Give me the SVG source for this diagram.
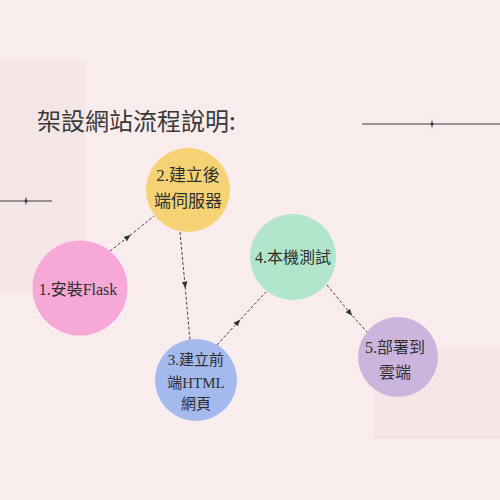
<svg xmlns="http://www.w3.org/2000/svg" width="500" height="500" viewBox="0 0 500 500">
  <defs>
    <style>
      .title { font-family: "Noto Sans CJK TC", "Noto Sans", sans-serif; font-size: 24px; fill: #3a3a3a; }
      .lbl { font-family: "Liberation Serif", "Noto Sans CJK TC", serif; fill: #2f2f2f; text-anchor: middle; }
      .conn { fill: none; stroke: #444; stroke-width: 1; stroke-dasharray: 3 2; marker-mid: url(#arr); }
      .deco { stroke: #3a3a3a; stroke-width: 1.2; }
      .star { fill: #3a3a3a; }
    </style>
    <marker id="arr" viewBox="0 0 10 10" refX="5" refY="5" markerWidth="7" markerHeight="7" orient="auto" markerUnits="strokeWidth">
      <path d="M0,1 L10,5 L0,9 z" fill="#333"/>
    </marker>
  </defs>

  <rect width="500" height="500" fill="#f9ecec"/>
  <rect x="0" y="61" width="85" height="229" fill="#f4e6e7"/>
  <rect x="374" y="350" width="126" height="89" fill="#f4e5e6"/>

  <g id="decorations">
    <line class="deco" x1="362" y1="124" x2="500" y2="124"/>
    <path class="star" d="M432,119 Q432.4,123.6 434,124 Q432.4,124.4 432,129 Q431.6,124.4 430,124 Q431.6,123.6 432,119 z"/>
    <line class="deco" x1="0" y1="201" x2="52" y2="201"/>
    <path class="star" d="M26,196 Q26.4,200.6 28,201 Q26.4,201.4 26,206 Q25.6,201.4 24,201 Q25.6,200.6 26,196 z"/>
  </g>

  <text class="title" x="37" y="130">架設網站流程說明:</text>

  <g id="connectors">
    <polyline class="conn" points="110,251 128,237 154,216"/>
    <polyline class="conn" points="180,232 185,285 190,340"/>
    <polyline class="conn" points="217,345 238,322 266,292"/>
    <polyline class="conn" points="327,285 350,313 367,332"/>
  </g>

  <g id="node1">
    <circle cx="80" cy="288" r="47.5" fill="#f6a9d6"/>
    <text class="lbl" x="78" y="295" font-size="16" fill="#3f3340">1.安裝Flask</text>
  </g>
  <g id="node2">
    <circle cx="188" cy="190" r="42" fill="#f5d374"/>
    <text class="lbl" x="188" y="181" font-size="17">2.建立後</text>
    <text class="lbl" x="188" y="207" font-size="17">端伺服器</text>
  </g>
  <g id="node3">
    <circle cx="196" cy="380" r="41" fill="#a4baee"/>
    <text class="lbl" x="196" y="365" font-size="15">3.建立前</text>
    <text class="lbl" x="196" y="388" font-size="15">端HTML</text>
    <text class="lbl" x="196" y="409" font-size="15">網頁</text>
  </g>
  <g id="node4">
    <circle cx="293" cy="257" r="43" fill="#b1e6cd"/>
    <text class="lbl" x="293" y="263" font-size="16">4.本機測試</text>
  </g>
  <g id="node5">
    <circle cx="398" cy="357" r="40" fill="#cbb5dd"/>
    <text class="lbl" x="395" y="353" font-size="16">5.部署到</text>
    <text class="lbl" x="395" y="378" font-size="16">雲端</text>
  </g>
</svg>
